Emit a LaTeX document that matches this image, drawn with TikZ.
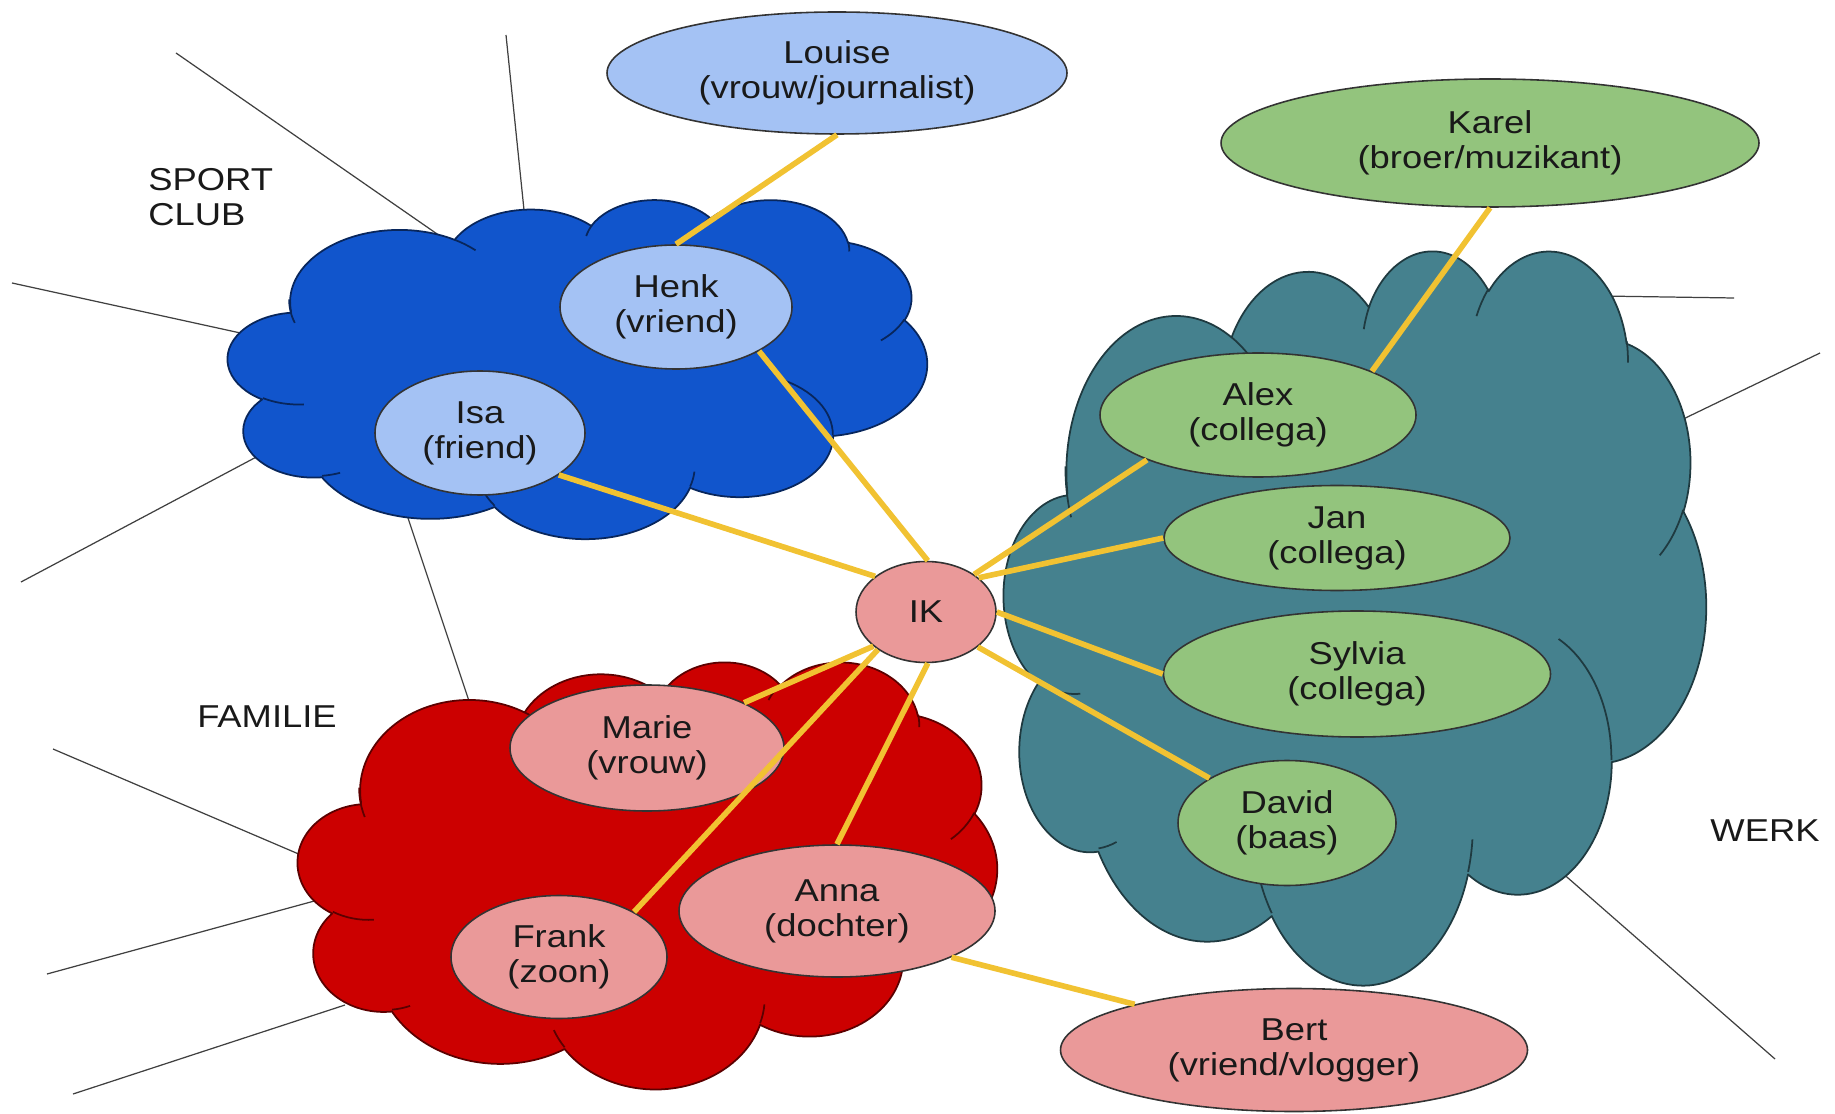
\documentclass[tikz,border=0pt]{standalone}
\usepackage{fontspec}
\setmainfont{Liberation Sans}[FakeStretch=1.15]
\usetikzlibrary{shapes.geometric}

\definecolor{cblue}{HTML}{1155CC}
\definecolor{cred}{HTML}{CC0000}
\definecolor{cteal}{HTML}{45818E}
\definecolor{lblue}{HTML}{A4C2F4}
\definecolor{lgreen}{HTML}{93C47D}
\definecolor{lpink}{HTML}{EA9999}
\definecolor{lyellow}{HTML}{F1C232}

% one arc of a cloud: x radius, y radius, start angle, sweep
\newcommand\cloudarc[4]{arc[x radius=#1,y radius=#2,
  start angle={atan2(#1*sin(#3),#2*cos(#3))},
  delta angle={Mod(atan2(#1*sin(#3+#4),#2*cos(#3+#4))-atan2(#1*sin(#3),#2*cos(#3)),360)}]}

% cloud in the box with top left corner (#1,#2), width #3, height #4
\newcommand\cloudbox[5]{%
  \begin{scope}[shift={(#1,#2)},x={#3/4320*1mm},y={-#4/4320*1mm}]
  \path[draw=#5!45!black,fill=#5,line width=0.5pt,line join=round]
    (39,143.7) \cloudarc{67.53}{91.90}{-190.4875}{123.7805}
    \cloudarc{53.33}{72.67}{-144.1024}{89.9452}
    \cloudarc{43.65}{59.45}{-145.8079}{99.7230}
    \cloudarc{48.57}{65.95}{-130.9861}{117.2417}
    \cloudarc{53.33}{72.73}{-78.7089}{109.0269}
    \cloudarc{67.75}{92.20}{-46.2673}{130.2690}
    \cloudarc{57.85}{78.67}{0.6250}{114.0333}
    \cloudarc{67.52}{92.15}{22.4516}{115.1726}
    \cloudarc{77.20}{105.43}{66.2426}{75.7110}
    \cloudarc{43.60}{59.18}{-274.9421}{146.7356}
    \cloudarc{43.45}{59.45}{-246.8285}{152.5189} -- cycle;
  \draw[#5!45!black,line width=0.5pt]
    (46.93,261.77) \cloudarc{43.45}{59.45}{86.7420}{26.4295}
    (69.28,348.99) \cloudarc{43.60}{59.18}{73.6105}{11.4475}
    (164.78,390.90) \cloudarc{67.52}{92.15}{137.6242}{14.0811}
    (288.27,347.51) \cloudarc{67.52}{92.15}{6.4533}{15.9984}
    (341.29,229.54) \cloudarc{57.85}{78.67}{-70.2924}{70.9174}
    (417.98,153.54) \cloudarc{53.33}{72.73}{30.3180}{27.7515}
    (383.24,54.26) \cloudarc{48.57}{65.95}{-13.7443}{14.8589}
    (290.78,39.52) \cloudarc{48.57}{65.95}{-149.1815}{18.1954}
    (221.41,47.20) \cloudarc{43.65}{59.45}{-163.4943}{17.6864}
    (140.00,51.92) \cloudarc{67.53}{91.90}{-66.7070}{12.3194}
    (41.27,157.89) \cloudarc{67.53}{91.90}{155.6489}{25.0962};
  \end{scope}}

\begin{document}
\begin{tikzpicture}[x=0.1mm,y=-0.1mm,
  font=\fontsize{9}{10}\selectfont,
  dims/.style 2 args={minimum width=#1*0.1mm,minimum height=#2*0.1mm},
  person/.style={ellipse,draw=black!80,line width=0.45pt,inner sep=0pt,
    align=center,text=black!90},
  blueguy/.style={person,fill=lblue},
  greenguy/.style={person,fill=lgreen},
  pinkguy/.style={person,fill=lpink},
  link/.style={draw=lyellow,line width=1.6pt},
  rim/.style={draw=black!75,line width=0.35pt},
  lbl/.style={text=black!90}]
\useasboundingbox (0,0) rectangle (1835,1114);

% lines behind the clouds
\draw[rim] (176,53) -- (440,236);
\draw[rim] (506,35) -- (524,210);
\draw[rim] (12,283) -- (245,334);
\draw[rim] (21,582) -- (262,454);
\draw[rim] (408,518) -- (472,710);
\draw[rim] (53,749) -- (308,858);
\draw[rim] (47,974) -- (318,900);
\draw[rim] (73,1094) -- (345,1005);
\draw[rim] (1600,296) -- (1734,298);
\draw[rim] (1675,423) -- (1820,353);
\draw[rim] (1560,871) -- (1775,1059);

% clouds
\cloudbox{228}{199}{699}{339}{cblue}
\cloudbox{298}{661}{699}{427}{cred}
\cloudbox{1004}{249}{702}{734}{cteal}

% people
\node[blueguy,dims={460}{122}] (louise) at (837,73) {Louise\\(vrouw/journalist)};
\node[greenguy,dims={538}{128}] (karel) at (1490,143) {Karel\\(broer/muzikant)};
\node[blueguy,dims={232}{124}] (henk) at (676,307) {Henk\\(vriend)};
\node[blueguy,dims={210}{124}] (isa) at (480,433) {Isa\\(friend)};
\node[pinkguy,dims={140}{101}] (ik) at (926,612) {IK};
\node[greenguy,dims={316}{124}] (alex) at (1258,415) {Alex\\(collega)};
\node[greenguy,dims={346}{105}] (jan) at (1337,538) {Jan\\(collega)};
\node[greenguy,dims={387}{126}] (sylvia) at (1357,674) {Sylvia\\(collega)};
\node[greenguy,dims={218}{125}] (david) at (1287,823) {David\\(baas)};
\node[pinkguy,dims={274}{126}] (marie) at (647,748) {Marie\\(vrouw)};
\node[pinkguy,dims={316}{132}] (anna) at (837,911) {Anna\\(dochter)};
\node[pinkguy,dims={216}{123}] (frank) at (559,957) {Frank\\(zoon)};
\node[pinkguy,dims={467}{123}] (bert) at (1294,1050) {Bert\\(vriend/vlogger)};

% yellow links
\draw[link] (ik.88) -- (henk.-28);
\draw[link] (ik.145) -- (isa.-28);
\draw[link] (ik.38) -- (alex.-158);
\draw[link] (ik.33) -- (jan.west);
\draw[link] (ik.east) -- (sylvia.west);
\draw[link] (ik.-34) -- (david.150);
\draw[link] (ik.213) -- (marie.25);
\draw[link] (ik.218) -- (frank.31);
\draw[link] (ik.272) -- (anna.north);
\draw[link] (henk.north) -- (louise.south);
\draw[link] (alex.21) -- (karel.south);
\draw[link] (anna.-22) -- (bert.164);

% group names
\node[lbl,align=left,anchor=west] (sport) at (136,197) {SPORT\\CLUB};
\node[lbl] (familie) at (267,717) {FAMILIE};
\node[lbl] (werk) at (1765,831) {WERK};

\end{tikzpicture}
\end{document}
